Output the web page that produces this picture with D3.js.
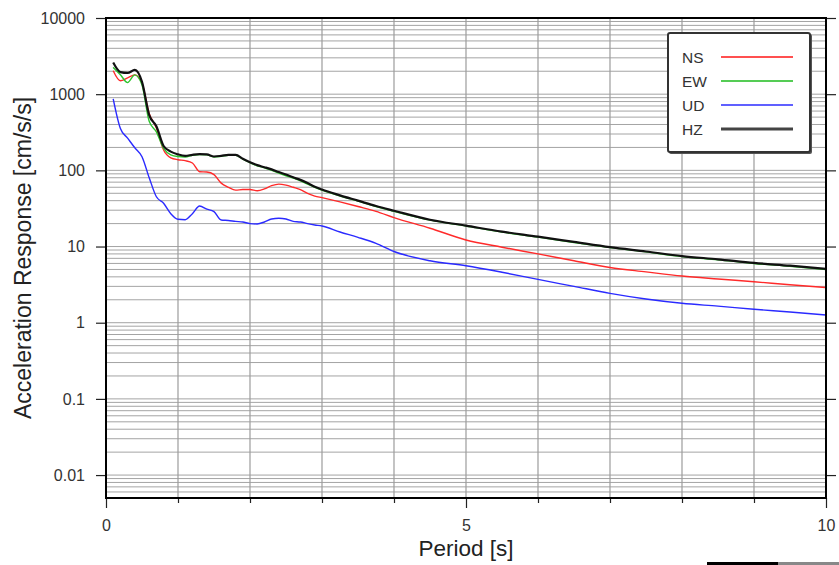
<!DOCTYPE html>
<html>
<head>
<meta charset="utf-8">
<script src="https://cdn.jsdelivr.net/npm/d3@7"></script>
<style>
html,body{margin:0;padding:0;background:#fff;}
svg{display:block;font-family:"Liberation Sans",Arial,Helvetica,sans-serif;}
</style>
</head>
<body>
<svg id="chart" width="839" height="565"></svg>
<script>
const periods = [0.1,0.2,0.3,0.4,0.5,0.6,0.7,0.8,0.9,1.0,1.1,1.2,1.3,1.4,1.5,1.6,1.7,1.8,1.9,2.0,2.1,2.2,2.3,2.4,2.5,2.6,2.7,2.8,2.9,3.0,3.25,3.5,3.75,4.0,4.5,5.0,5.5,6.0,6.5,7.0,7.5,8.0,8.5,9.0,9.5,10.0];
const nsValues = [2030,1500,1640,1790,1390,560,360,185,146,138,134,125,96,95,88,68,60,55,56,56,54,57,63,66,64,60,56,50,46,43.8,38.5,33.5,29,24,17.4,12.2,9.8,8.0,6.5,5.3,4.65,4.1,3.75,3.45,3.15,2.9];
const ewValues = [2250,1800,1420,1790,1320,440,320,194,160,152,150,157,161,160,150,153,158,158,140,126,115,108,100,92,85,79,73,66,60,55,46,39.5,33.5,29,22.2,18.6,15.5,13.3,11.3,9.7,8.5,7.4,6.7,6.0,5.5,5.0];
const udValues = [870,355,265,198,151,80,45,37,27,22.8,22.5,27,34,31,28.7,22.3,22,21.4,21,20,19.8,21,23,23.5,23,21.4,21,20,19.2,18.6,15.5,13.2,11,8.6,6.5,5.6,4.6,3.7,3.0,2.43,2.05,1.8,1.65,1.5,1.38,1.26];
const hzValues = [2600,1950,1900,2080,1450,530,380,209,176,162,155,160,163,162,152,155,160,160,142,128,117,110,103,95,88,81,75,68,61,56,47,40,34,29.5,22.5,18.8,15.7,13.5,11.5,9.8,8.6,7.5,6.8,6.1,5.6,5.1];
const seriesNames = ["NS","EW","UD","HZ"];
const seriesColors = ["#ff2a2a","#2ec42e","#2a2aff","#111111"];
const legendColors = ["#ff5050","#55cc55","#6060ff","#444444"];
const seriesWidths = [1.4,1.4,1.4,2.2];
const yTickValues = [0.01,0.1,1,10,100,1000,10000];
const yTickLabels = ["0.01","0.1","1","10","100","1000","10000"];
const xMajorTicks = [0,5,10];
const xMinorTicks = [1,2,3,4,6,7,8,9];
const xDomain = [0,10];
const yDomain = [0.005,10000];

const seriesValues = [nsValues, ewValues, udValues, hzValues];

const svg = d3.select("#chart");
const L = 106, R = 826, T = 18, B = 498;
const x = d3.scaleLinear().domain(xDomain).range([L,R]);
const y = d3.scaleLog().domain(yDomain).range([B,T]);

// horizontal grid
const hGrid = [];
for (let k=-3;k<=4;k++){ for(let m=1;m<=9;m++){ const v=m*Math.pow(10,k); if(v>yDomain[0]*1.0001 && v<yDomain[1]*0.9999) hGrid.push(v);} }
svg.append("g").selectAll("line").data(hGrid).join("line")
  .attr("x1",L).attr("x2",R).attr("y1",d=>y(d)).attr("y2",d=>y(d))
  .attr("stroke","#a4a4a4").attr("stroke-width",1);
// vertical grid
svg.append("g").selectAll("line").data(d3.range(1,10)).join("line")
  .attr("x1",d=>x(d)).attr("x2",d=>x(d)).attr("y1",T).attr("y2",B)
  .attr("stroke","#9c9c9c").attr("stroke-width",1.2);

// series
const line = d3.line().x((d,i)=>x(periods[i])).y(d=>y(d)).curve(d3.curveMonotoneX);
const order = [0,1,2,3];
svg.append("g").selectAll("path").data(order).join("path")
  .attr("d",i=>line(seriesValues[i]))
  .attr("fill","none").attr("stroke",i=>seriesColors[i]).attr("stroke-width",i=>seriesWidths[i])
  .attr("stroke-linejoin","round");

// axes
const axL = d3.axisLeft(y).tickValues(yTickValues).tickFormat((d,i)=>yTickLabels[i]).tickSize(10).tickPadding(11);
const gL = svg.append("g").attr("transform",`translate(${L},0)`).call(axL);
const axR = d3.axisRight(y).tickValues(yTickValues).tickFormat("").tickSize(10);
const gR = svg.append("g").attr("transform",`translate(${R},0)`).call(axR);
const axB = d3.axisBottom(x).tickValues(xMajorTicks).tickFormat(d3.format("d")).tickSize(10).tickPadding(12);
const gB = svg.append("g").attr("transform",`translate(0,${B})`).call(axB);
const axBm = d3.axisBottom(x).tickValues(xMinorTicks).tickFormat("").tickSize(5);
const gBm = svg.append("g").attr("transform",`translate(0,${B})`).call(axBm);
[gL,gR,gB,gBm].forEach(g=>{
  g.select(".domain").remove();
  g.selectAll(".tick line").attr("stroke","#222").attr("stroke-width",1.2);
  g.selectAll(".tick text").attr("fill","#333").style("font-size","16px").style("font-family","'Liberation Sans',Arial,sans-serif");
});

// frame
svg.append("rect").attr("x",L).attr("y",T).attr("width",R-L).attr("height",B-T)
  .attr("fill","none").attr("stroke","#000").attr("stroke-width",2);

// titles
svg.append("text").attr("x",(L+R)/2).attr("y",556).attr("text-anchor","middle")
  .attr("fill","#222").style("font-size","22.5px").text("Period [s]");
svg.append("text").attr("transform",`translate(31,${(T+B)/2}) rotate(-90)`).attr("text-anchor","middle")
  .attr("fill","#222").style("font-size","23px").text("Acceleration Response [cm/s/s]");

// legend
const lg = svg.append("g");
lg.append("rect").attr("x",669).attr("y",34).attr("width",143).attr("height",120).attr("rx",2)
  .attr("fill","#555");
lg.append("rect").attr("x",668).attr("y",33).attr("width",142).attr("height",119).attr("rx",2)
  .attr("fill","#fff").attr("stroke","#333").attr("stroke-width",2);
const items = lg.selectAll("g.item").data(seriesNames).join("g").attr("class","item")
  .attr("transform",(d,i)=>`translate(0,${57+i*24})`);
items.append("text").attr("x",682).attr("y",6).attr("fill","#333").style("font-size","15.5px").text(d=>d);
items.append("line").attr("x1",721).attr("x2",793).attr("y1",0).attr("y2",0)
  .attr("stroke",(d,i)=>legendColors[i]).attr("stroke-width",(d,i)=>i===3?3:1.8);

// bottom-right bar artifact
svg.append("rect").attr("x",707).attr("y",562).attr("width",71).attr("height",3).attr("fill","#000");
svg.append("rect").attr("x",778).attr("y",562).attr("width",61).attr("height",3).attr("fill","#888");
</script>
</body>
</html>
